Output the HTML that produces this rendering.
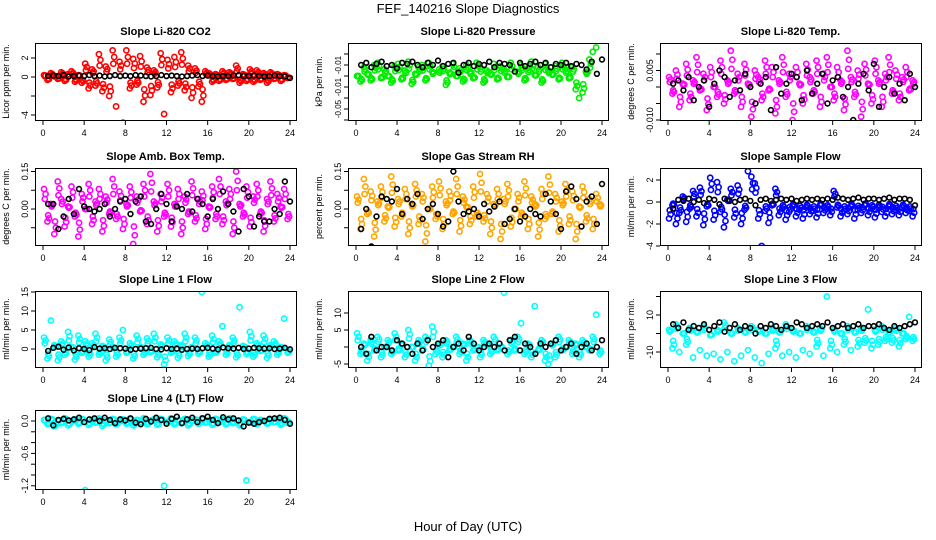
<!DOCTYPE html>
<html><head><meta charset="utf-8"><style>
body{margin:0;background:#fff;}
svg{display:block;font-family:"Liberation Sans",sans-serif;}
</style></head><body>
<svg id="chart" width="936" height="540" viewBox="0 0 936 540">
<text x="468" y="13" text-anchor="middle" font-size="13">FEF_140216  Slope Diagnostics</text>
<text x="468" y="531" text-anchor="middle" font-size="13">Hour of Day (UTC)</text>
</svg>
<script>
const xTicks=[0,4,8,12,16,20,24];
const co2Col=[0.2,-0.3,0.4,0.1,-0.2,0.5,-0.4,0.3,0.6,-0.5,0.2,-0.6,1.4,-1.2,0.8,-0.9,2.4,-1.5,1.1,-2.0,2.8,-3.1,1.6,-4.8,2.8,-1.2,1.9,-0.8,2.2,-2.6,1.0,-1.9,0.7,-1.1,2.5,-3.9,1.8,-1.6,2.1,-0.9,2.6,-1.4,1.2,-2.2,0.9,-1.0,-2.6,0.6,0.4,-0.5,0.3,-0.4,0.6,-0.3,0.5,-0.2,1.2,-0.6,0.3,-0.4,0.8,-0.5,0.7,-0.3,0.4,-0.6,0.5,-0.2,0.3,-0.4,0.2,-0.1];
const co2Blk=[0.1,0.15,0.1,0.2,0.05,0.1,0.15,0.1,0.2,0.1,0.15,0.05,0.1,0.2,0.1,0.15,0.1,0.2,0.15,0.1,0.05,0.1,0.2,0.1,0.15,0.1,0.05,0.1,0.15,0.2,0.1,0.15,0.1,0.05,0.1,0.1,0.15,0.2,0.1,0.1,0.15,0.1,0.05,0.1,0.15,0.1,0.05,-0.1];
const presCol=[0.0,-0.005,0.008,0.002,-0.004,0.01,0.012,-0.002,0.006,0.0,-0.006,0.009,0.011,-0.003,0.005,0.013,-0.007,0.002,0.008,0.01,-0.004,0.012,0.004,-0.048,0.006,0.009,-0.008,0.003,0.011,0.0,0.007,-0.005,0.01,0.004,-0.002,0.012,0.008,-0.006,0.005,0.002,0.011,-0.003,0.009,0.006,-0.001,0.012,-0.046,0.004,0.01,-0.004,0.007,0.013,0.001,0.008,-0.006,0.011,0.005,0.002,0.009,-0.003,0.012,0.006,-0.002,0.008,-0.012,-0.02,-0.015,0.004,0.015,0.022,0.026,-0.05];
const presBlk=[0.01,0.012,0.008,0.011,0.013,0.009,0.01,0.007,0.012,0.011,0.013,0.01,0.008,0.012,0.01,0.014,0.009,0.011,0.012,0.003,0.01,0.012,0.009,0.011,0.01,0.013,0.008,0.012,0.011,0.01,0.004,0.012,0.009,0.011,0.013,0.01,0.012,0.008,0.011,0.01,0.012,0.009,0.011,0.01,0.006,0.013,0.002,0.015];
const tempCol=[0.003,-0.002,0.005,-0.006,0.001,0.007,-0.004,0.002,0.009,-0.001,0.004,-0.007,0.006,0.0,-0.003,0.008,-0.005,0.002,0.011,-0.002,0.004,-0.006,0.007,0.001,-0.009,0.005,0.003,-0.004,0.008,-0.001,0.006,-0.008,0.002,0.009,-0.003,0.004,-0.010,0.006,0.001,-0.005,0.007,0.003,-0.002,0.008,-0.006,0.004,0.009,0.0,-0.004,0.006,0.002,-0.007,0.011,0.003,-0.003,0.005,-0.009,0.007,0.001,-0.005,0.008,0.002,-0.006,0.004,0.009,-0.002,0.005,-0.004,0.003,0.006,-0.001,0.002];
const tempBlk=[0.001,0.002,-0.001,0.003,-0.004,0.0,0.002,-0.006,0.001,0.005,0.003,-0.003,0.002,-0.001,0.004,0.0,-0.005,0.001,0.003,-0.007,0.006,-0.002,0.001,0.004,0.003,-0.004,0.005,-0.002,0.001,0.004,-0.005,0.002,0.003,-0.003,0.0,-0.01,0.001,0.004,-0.001,0.007,-0.006,0.0,0.003,-0.002,0.001,-0.004,0.004,0.0];
const ambCol=[0.08,-0.05,0.02,-0.1,0.11,0.04,-0.07,0.01,0.09,-0.03,-0.11,0.06,0.0,0.1,-0.06,0.03,0.08,-0.09,0.05,-0.02,0.12,-0.04,0.07,-0.08,0.02,0.09,-0.14,0.05,-0.01,0.1,-0.06,0.14,0.03,-0.09,0.06,-0.03,0.1,-0.07,0.02,0.08,-0.1,0.05,-0.02,0.11,-0.05,0.04,0.07,-0.08,0.01,0.09,-0.04,0.12,-0.06,0.03,0.08,-0.1,0.15,0.02,-0.03,0.09,-0.07,0.05,0.1,-0.02,-0.09,0.04,0.11,-0.05,0.06,0.01,0.08,-0.04];
const ambBlk=[0.02,0.02,-0.08,-0.03,0.04,-0.02,0.08,0.01,0.0,-0.01,0.0,0.02,-0.03,0.0,0.03,0.04,-0.02,0.03,0.05,-0.05,-0.06,0.0,0.06,0.02,-0.05,0.01,0.0,0.06,-0.01,0.04,0.02,-0.03,0.04,0.0,0.07,0.02,-0.01,-0.09,0.08,0.05,-0.07,-0.03,-0.05,-0.05,0.0,-0.02,0.11,0.03];
const rhCol=[0.05,-0.08,0.12,-0.02,0.07,-0.11,0.03,0.09,-0.05,0.01,0.13,-0.07,0.04,-0.03,0.08,-0.1,0.02,0.1,-0.06,0.06,-0.13,0.0,0.09,-0.04,0.11,-0.08,0.03,0.07,-0.02,0.12,-0.09,0.05,0.01,-0.06,0.09,-0.03,0.14,-0.05,0.06,-0.1,0.02,0.08,-0.12,0.04,0.1,-0.07,0.0,0.06,-0.03,0.11,-0.08,0.05,0.02,-0.11,0.08,-0.04,0.13,-0.02,0.06,-0.09,0.03,0.1,-0.06,0.07,-0.12,0.01,0.09,-0.05,0.04,-0.08,0.06,0.02];
const rhBlk=[-0.08,0.0,-0.15,-0.03,0.05,0.04,0.03,0.08,-0.02,0.04,0.02,0.06,-0.04,0.0,0.02,-0.02,-0.07,-0.05,0.15,0.03,-0.02,-0.01,0.0,-0.03,0.02,-0.01,0.01,0.03,-0.06,-0.04,0.0,-0.05,-0.03,0.0,-0.02,-0.03,0.06,0.03,-0.02,-0.08,0.07,0.09,0.04,-0.07,0.03,0.05,-0.06,0.1];
const sampCol=[-1.5,-0.3,-2.0,-1.0,0.5,-1.8,-0.6,1.0,-1.3,1.3,-2.1,-0.4,2.2,-1.6,1.8,-0.9,-2.3,0.2,1.2,-1.4,1.5,-2.0,-0.7,2.8,2.3,1.7,-1.5,-4.0,-0.8,-1.9,-0.3,1.2,-1.2,-0.6,-1.6,-0.9,-0.4,-1.3,-0.7,-1.5,-0.5,-1.1,-0.8,-1.4,-0.3,-1.0,-0.6,-1.2,1.0,-0.5,-1.3,-0.8,-1.1,-0.4,-1.5,-0.7,-1.0,-0.3,-1.2,-0.6,-1.4,-0.5,-0.9,-1.3,-0.4,-1.1,-0.7,-1.2,-0.5,-1.0,-0.8,-1.3];
const sampBlk=[-0.6,0.2,0.1,0.3,0.0,0.2,-0.1,0.3,0.2,-0.2,0.3,0.1,0.0,0.2,0.3,0.1,-0.3,0.2,0.3,0.1,0.2,0.3,0.2,0.3,0.1,0.2,0.3,0.2,0.3,0.2,0.3,0.2,0.4,0.3,0.2,0.3,0.4,0.2,0.3,0.3,0.2,0.3,0.4,0.2,0.3,0.3,0.2,-0.3];
const l1Col=[3,-2.5,7.5,1,-3,2,-1.5,4.5,0.5,-2.8,3.5,-1,2,-2,1.5,4,-1.5,0.8,-3,2.5,0.5,-2,3,5,-1,1.5,-2.5,3.5,0.5,-1.5,2.8,-0.8,4,-2.2,1.2,-4,3,-1,2,-2.3,1,4,-1.8,0.5,3,-1.2,15,1.5,-2,3.5,-1,2,6,-1.5,1,3,-2.2,11,0.8,-1.3,4.5,-2,1.5,-0.5,3.5,-2.3,1,2,-1.5,0.5,8,-1];
const l1Blk=[-0.5,0.3,0.6,-0.2,0.4,-0.4,0.2,0.0,-0.3,0.5,0.1,0.2,0.0,0.3,0.2,0.1,-0.2,0.0,0.1,0.2,0.3,0.0,-0.1,0.2,0.0,0.1,-0.2,0.0,0.1,0.0,0.2,0.3,0.1,-0.1,0.4,0.2,0.1,0.3,0.0,0.1,0.3,0.2,0.1,0.2,0.0,0.1,0.3,-0.1];
const l2Col=[4,-2,1,-4,2,-1,3,-3,0,2,-2,4,-1,1,-3,5,0,-4,2,-1,3,-5.5,6,-2,1,-3,2,-1,0,3,-2,1,-4,2,-1,0,-3,2,1,-2,3,-1,0,16,-2,2,-1,3,7,-2,1,-3,12,-1,2,-4,-5,1,-3,3,-1,0,2,-2,1,-3,2,0,-1,3,9.5,-2];
const l2Blk=[0,-2,3,-1,0,0,-1,2,1,0,-2,1,-1,2,0,1,2,-3,0,1,-1,3,1,-1,0,1,0,1,-1,2,3,-1,1,0,-2,1,0,1,2,-1,0,1,-2,0,1,-1,0,2];
const l3Col=[2,-8,5,-10,0,-6,3,-13,1,-9,4,-12,-1,-11,2,-14,6,-10,0,-15,3,-12,1,-9,4,-13,2,-16,0,-11,3,-8,1,-12,5,-10,2,-13,0,-9,4,-11,1,-7,3,-12,20,-8,2,-10,0,-6,4,-9,1,-7,3,-5,13,-8,2,-6,4,-4,1,-5,3,-7,0,-3,9,-4];
const l3Blk=[5,3,6,2,4,3,5,2,4,6,1,3,5,2,4,3,0,4,3,5,4,2,4,3,6,5,3,4,5,4,6,3,4,5,3,4,5,3,4,4,5,3,2,4,3,4,5,6];
const l4Col=[0.02,-0.06,0.04,-0.1,0.01,-0.04,0.05,-0.08,0.0,0.03,-0.05,0.04,-1.28,-0.07,0.02,-0.03,0.05,-0.09,0.01,-0.04,0.04,-0.06,0.0,0.03,-0.05,0.04,-0.08,0.02,-0.03,0.05,-0.06,0.01,0.03,-0.07,0.04,-1.2,-0.02,0.05,-0.06,0.02,-0.04,0.04,-0.08,0.01,0.03,-0.05,0.05,-0.03,0.02,-0.07,0.04,-0.02,0.03,-0.06,0.05,-0.04,0.01,-0.08,0.03,-1.1,-0.03,0.04,-0.06,0.02,0.0,-0.05,0.04,-0.02,0.03,-0.07,0.05,-0.03];
const l4Blk=[0.05,-0.08,0.02,0.04,0.01,0.03,0.06,-0.02,0.03,0.05,0.0,0.06,0.02,-0.04,0.03,0.01,0.05,-0.03,-0.06,0.04,-0.01,0.06,0.02,-0.05,0.04,0.08,-0.04,0.03,0.06,-0.02,0.05,0.08,0.02,-0.04,0.07,0.03,0.05,0.01,-0.1,-0.03,-0.05,-0.02,0.0,0.04,0.05,0.06,0.02,-0.05];

const NS="http://www.w3.org/2000/svg";
const svg=document.getElementById('chart');
function mk(tag,attrs,parent){const e=document.createElementNS(NS,tag);for(const k in attrs)e.setAttribute(k,attrs[k]);(parent||svg).appendChild(e);return e;}

const panels=[
 {key:'co2',title:'Slope Li-820 CO2',ylab:'Licor ppm per min.',col:'#ff0000',c:co2Col,b:co2Blk,band:3,bx:[35,296],by:[43,120],v0:0,p0:77,k:9.5,ticks:[2,0,-2,-4],labels:['2','0','','-4']},
 {key:'pressure',title:'Slope Li-820 Pressure',ylab:'kPa per min.',col:'#00ee00',c:presCol,b:presBlk,band:0.02,bx:[348,608],by:[43,120],v0:0,p0:76,k:1100,ticks:[0.02,0.01,0,-0.01,-0.02,-0.03,-0.04],labels:['','-0.01','','-0.01','','-0.05','']},
 {key:'temp',title:'Slope Li-820 Temp.',ylab:'degrees C per min.',col:'#ff00ff',c:tempCol,b:tempBlk,band:1,bx:[660,921],by:[43,120],v0:0,p0:87,k:3300,ticks:[0.01,0.005,0,-0.005,-0.01],labels:['','0.005','','','-0.010']},
 {key:'amb',title:'Slope Amb. Box Temp.',ylab:'degrees C per min.',col:'#ff00ff',c:ambCol,b:ambBlk,band:1,bx:[35,296],by:[168,245],v0:0,p0:209,k:250,ticks:[0.15,0.075,0,-0.075,-0.15],labels:['0.15','','0.00','','-0.15']},
 {key:'rh',title:'Slope Gas Stream RH',ylab:'percent per min.',col:'#ffa500',c:rhCol,b:rhBlk,band:1,bx:[348,608],by:[168,245],v0:0,p0:209,k:250,ticks:[0.15,0.075,0,-0.075,-0.15],labels:['0.15','','0.00','','-0.15']},
 {key:'sample',title:'Slope Sample Flow',ylab:'ml/min per min.',col:'#0000ff',c:sampCol,b:sampBlk,band:2.5,bx:[660,921],by:[168,245],v0:0,p0:202,k:11,ticks:[2,0,-2,-4],labels:['2','0','-2','-4']},
 {key:'line1',title:'Slope Line 1 Flow',ylab:'ml/min per min.',col:'#00ffff',c:l1Col,b:l1Blk,band:5,bx:[35,296],by:[291,367],v0:0,p0:349,k:3.8,ticks:[15,10,5,0],labels:['15','10','5','0']},
 {key:'line2',title:'Slope Line 2 Flow',ylab:'ml/min per min.',col:'#00ffff',c:l2Col,b:l2Blk,band:6.5,bx:[348,608],by:[291,367],v0:0,p0:347,k:3.4,ticks:[10,5,0,-5],labels:['10','5','','-5']},
 {key:'line3',title:'Slope Line 3 Flow',ylab:'ml/min per min.',col:'#00ffff',c:l3Col,b:l3Blk,band:8.5,bx:[660,921],by:[291,367],v0:0,p0:333.5,k:1.85,ticks:[20,10,0,-10],labels:['','10','','-10']},
 {key:'line4',title:'Slope Line 4 (LT) Flow',ylab:'ml/min per min.',col:'#00ffff',c:l4Col,b:l4Blk,band:0.3,bx:[35,296],by:[410,489],v0:0,p0:421,k:54,ticks:[0,-0.2,-0.4,-0.6,-0.8,-1.0,-1.2],labels:['0.0','','','-0.6','','','-1.2']}
];

panels.forEach(p=>{
  const g=mk('g',{});
  
  
  const x0=p.bx[0]+8, x1=p.bx[1]-6;
  const xs=t=>x0+(x1-x0)*t/24;
  const ys=v=>p.p0-(v-p.v0)*p.k;
  const cx=(p.bx[0]+p.bx[1])/2;
  const tt=mk('text',{x:cx,y:p.by[0]-8,'text-anchor':'middle','font-size':'11','font-weight':'bold'},g);
  tt.textContent=p.title;
  
  
  const yl=mk('text',{transform:`translate(${p.bx[0]-26},${(p.by[0]+p.by[1])/2}) rotate(-90)`,'text-anchor':'middle','font-size':'9'},g);
  yl.textContent=p.ylab;
  
  
  const clip='clip-'+p.key;
  const cp=mk('clipPath',{id:clip},g);
  mk('rect',{x:p.bx[0],y:p.by[0],width:p.bx[1]-p.bx[0],height:p.by[1]-p.by[0]},cp);
  const pg=mk('g',{'clip-path':`url(#${clip})`},g);
  p.c.forEach((v,i)=>{
    const t=i*24/p.c.length+0.1;
    const c=mk('circle',{cx:xs(t),cy:ys(v),r:2.6,fill:'none',stroke:p.col,'stroke-width':1.6},pg);
    
    
    if(Math.abs(v)<p.band){
      const c2=mk('circle',{cx:xs(t+0.15),cy:ys(v*0.75),r:2.6,fill:'none',stroke:p.col,'stroke-width':1.6},pg);
      
      
      const c3=mk('circle',{cx:xs(t+0.07),cy:ys(v*0.5),r:2.6,fill:'none',stroke:p.col,'stroke-width':1.6},pg);
      
      
    }
  });
  p.b.forEach((v,i)=>{
    const t=(i+1)*24/p.b.length;
    const c=mk('circle',{cx:xs(t),cy:ys(v),r:2.4,fill:'none',stroke:'#000','stroke-width':1.6},pg);
    
    
  });
  const bx=mk('rect',{x:p.bx[0]+0.5,y:p.by[0]+0.5,width:p.bx[1]-p.bx[0],height:p.by[1]-p.by[0],fill:'none',stroke:'#000','stroke-width':1},g);
  
  
  xTicks.forEach(t=>{
    mk('line',{x1:xs(t),x2:xs(t),y1:p.by[1]+1,y2:p.by[1]+5,stroke:'#000'},g);
    const lt=mk('text',{x:xs(t),y:p.by[1]+16,'text-anchor':'middle','font-size':'9'},g);
    lt.textContent=t;
    
    
  });
  p.ticks.forEach((v,i)=>{
    const y=ys(v);
    if(y<p.by[0]-1||y>p.by[1]+1) return;
    mk('line',{x1:p.bx[0]-4,x2:p.bx[0],y1:y,y2:y,stroke:'#000'},g);
    if(p.labels[i]){
      const lt=mk('text',{transform:`translate(${p.bx[0]-7},${y}) rotate(-90)`,'text-anchor':'middle','font-size':p.key==='pressure'?'8':'9'},g);
      lt.textContent=p.labels[i];
      
      
    }
  });
});
</script>
</body></html>
